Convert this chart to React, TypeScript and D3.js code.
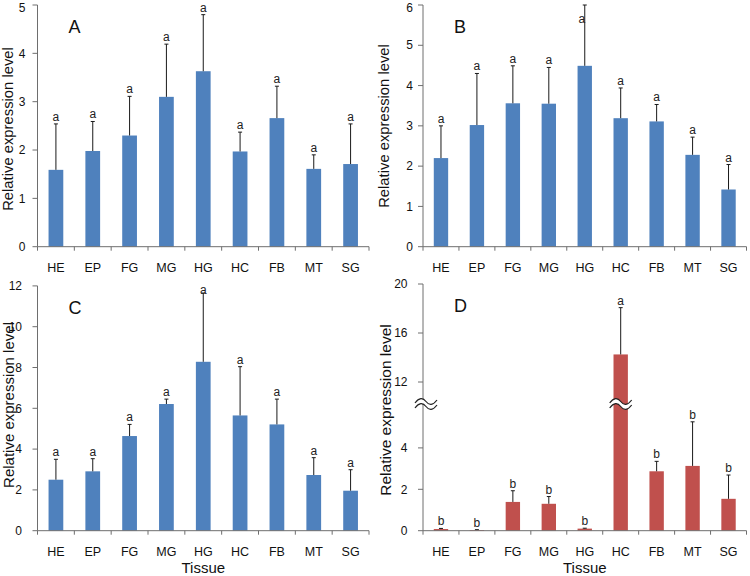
import React from "react";
import * as d3 from "d3";

const categories = ["HE", "EP", "FG", "MG", "HG", "HC", "FB", "MT", "SG"];

const meanA = [1.59, 1.98, 2.3, 3.1, 3.63, 1.97, 2.66, 1.61, 1.71];
const errA = [0.95, 0.61, 0.81, 1.09, 1.17, 0.4, 0.66, 0.29, 0.83];
const lettersA = ["a", "a", "a", "a", "a", "a", "a", "a", "a"];

const meanB = [2.2, 3.02, 3.56, 3.55, 4.49, 3.19, 3.11, 2.28, 1.42];
const errB = [0.8, 1.28, 0.93, 0.9, 1.51, 0.75, 0.42, 0.44, 0.62];
const lettersB = ["a", "a", "a", "a", "a", "a", "a", "a", "a"];

const meanC = [2.5, 2.91, 4.64, 6.21, 8.28, 5.65, 5.21, 2.73, 1.96];
const errC = [1.0, 0.62, 0.57, 0.24, 3.37, 2.39, 1.24, 0.85, 1.03];
const lettersC = ["a", "a", "a", "a", "a", "a", "a", "a", "a"];

const meanD = [0.08, 0.03, 1.39, 1.3, 0.1, 14.25, 2.87, 3.13, 1.54];
const errD = [0.03, 0.02, 0.54, 0.35, 0.02, 3.82, 0.48, 2.13, 1.15];
const lettersD = ["b", "b", "b", "b", "b", "a", "b", "b", "b"];

const ticksA = [0, 1, 2, 3, 4, 5];
const ticksB = [0, 1, 2, 3, 4, 5, 6];
const ticksC = [0, 2, 4, 6, 8, 10, 12];
const ticksDLow = [0, 2, 4];
const ticksDHigh = [12, 16, 20];

const FONT = "'Liberation Sans', Arial, sans-serif";
const BLUE = "#4F81BD";
const RED = "#C0504D";
const AXIS = "#6e6e6e";
const ERR = "#1a1a1a";

type PanelProps = {
  label: string;
  left: number;
  right: number;
  top: number;
  bottom: number;
  mean: number[];
  err: number[];
  letters: string[];
  color: string;
  y: (v: number) => number;
  ticks: number[];
  tickGap: number;
  titleX: number;
  titleY: number;
  titleSize: number;
  showTissue: boolean;
  broken?: boolean;
  clampBaseline: number;
  clampDx: number;
};

function BreakMark({ cx, cy }: { cx: number; cy: number }) {
  const w = 11;
  const wave = (off: number) =>
    `M${cx - w},${cy + off + 1.5} C${cx - w + 4},${cy + off - 4} ${cx - 3},${cy + off - 4} ${cx},${cy + off} S${cx + w - 4},${cy + off + 4} ${cx + w},${cy + off - 1.5}`;
  const waveRev = (off: number) =>
    `L${cx + w},${cy + off - 1.5} C${cx + w - 4},${cy + off + 4} ${cx + 3},${cy + off + 4} ${cx},${cy + off} S${cx - w + 4},${cy + off - 4} ${cx - w},${cy + off + 1.5} Z`;
  return (
    <g>
      <path d={wave(-2.5) + waveRev(2.5)} fill="#fff" stroke="none" />
      <path d={wave(-2.5)} fill="none" stroke="#222" strokeWidth={1.2} />
      <path d={wave(2.5)} fill="none" stroke="#222" strokeWidth={1.2} />
    </g>
  );
}

function Panel(p: PanelProps) {
  const x = d3
    .scaleBand<string>()
    .domain(categories)
    .range([p.left, p.right])
    .paddingInner(0.6)
    .paddingOuter(0.3);
  const step = x.step();
  const bw = x.bandwidth();
  const boundaries = d3.range(categories.length + 1).map((i) => p.left + i * step);
  const breakY = 404;
  return (
    <g fontFamily={FONT}>
      {categories.map((c, i) => {
        const x0 = x(c)!;
        const yTop = p.y(p.mean[i]);
        const yErr = p.y(p.mean[i] + p.err[i]);
        const cx = x0 + bw / 2;
        const natural = yErr - 3;
        const clamped = natural < p.clampBaseline;
        return (
          <g key={c}>
            <rect x={x0} y={yTop} width={bw} height={p.bottom - yTop} fill={p.color} />
            <line x1={cx} x2={cx} y1={yTop} y2={yErr} stroke={ERR} strokeWidth={1} />
            <line x1={cx - 2} x2={cx + 2} y1={yErr} y2={yErr} stroke={ERR} strokeWidth={1} />
            <text
              x={clamped ? cx + p.clampDx : cx}
              y={clamped ? p.clampBaseline : natural}
              textAnchor="middle"
              fontSize={12}
              fill="#222"
            >
              {p.letters[i]}
            </text>
            <text x={cx} y={p.bottom + 25.5} textAnchor="middle" fontSize={12.5} fill="#111">
              {c}
            </text>
          </g>
        );
      })}
      {/* y axis */}
      <line x1={p.left} x2={p.left} y1={p.top} y2={p.bottom} stroke={AXIS} strokeWidth={1} />
      {p.ticks.map((t) => (
        <g key={t}>
          <line x1={p.left - 5} x2={p.left} y1={p.y(t)} y2={p.y(t)} stroke={AXIS} />
          <text
            x={p.left - p.tickGap}
            y={Math.max(p.y(t) + 4.2, 11.5)}
            textAnchor="end"
            fontSize={12}
            fill="#111"
          >
            {t}
          </text>
        </g>
      ))}
      {/* x axis */}
      <line x1={p.left} x2={p.right} y1={p.bottom} y2={p.bottom} stroke={AXIS} strokeWidth={1} />
      {boundaries.map((bx, i) => (
        <line key={i} x1={bx} x2={bx} y1={p.bottom} y2={p.bottom + 4} stroke={AXIS} />
      ))}
      {p.broken && (
        <>
          <BreakMark cx={p.left + 3} cy={breakY} />
          <BreakMark cx={x("HC")! + bw / 2} cy={breakY} />
        </>
      )}
      <text
        transform={`translate(${p.titleX},${p.titleY}) rotate(-90)`}
        textAnchor="middle"
        fontSize={p.titleSize}
        fill="#111"
      >
        Relative expression level
      </text>
      {p.showTissue && (
        <text x={(p.left + p.right) / 2} y={573} textAnchor="middle" fontSize={15} fill="#111">
          Tissue
        </text>
      )}
      <text x={p.left + 31} y={p.top + 28} fontSize={18} fill="#111">
        {p.label}
      </text>
    </g>
  );
}

export default function App() {
  const yA = d3.scaleLinear().domain([0, 5]).range([246.7, 5]);
  const yB = d3.scaleLinear().domain([0, 6]).range([246.7, 5]);
  const yC = d3.scaleLinear().domain([0, 12]).range([530.7, 285.9]);
  const yDLow = d3.scaleLinear().domain([0, 6]).range([530.7, 406.5]);
  const yDHigh = d3.scaleLinear().domain([10, 20]).range([406.5, 284]);
  const yD = (v: number) => (v <= 6 ? yDLow(v) : v >= 10 ? yDHigh(v) : yDLow(6));

  return (
    <svg width={750} height={576} style={{ position: "absolute", left: 0, top: 0, background: "#fff" }}>
      <rect width={750} height={576} fill="#fff" />
      <Panel
        label="A"
        left={37.5}
        right={369}
        top={5}
        bottom={246.7}
        mean={meanA}
        err={errA}
        letters={lettersA}
        color={BLUE}
        y={yA}
        ticks={ticksA}
        tickGap={12}
        titleX={12.5}
        titleY={129}
        titleSize={14.8}
        showTissue={false}
        clampBaseline={10}
        clampDx={0}
      />
      <Panel
        label="B"
        left={423}
        right={746.5}
        top={5}
        bottom={246.7}
        mean={meanB}
        err={errB}
        letters={lettersB}
        color={BLUE}
        y={yB}
        ticks={ticksB}
        tickGap={10}
        titleX={388.5}
        titleY={126}
        titleSize={14.8}
        showTissue={false}
        clampBaseline={23}
        clampDx={-3}
      />
      <Panel
        label="C"
        left={37.5}
        right={369}
        top={285.9}
        bottom={530.7}
        mean={meanC}
        err={errC}
        letters={lettersC}
        color={BLUE}
        y={yC}
        ticks={ticksC}
        tickGap={15.5}
        titleX={13.5}
        titleY={405}
        titleSize={15}
        showTissue={true}
        clampBaseline={294}
        clampDx={0}
      />
      <Panel
        label="D"
        left={423}
        right={746.5}
        top={284}
        bottom={530.7}
        mean={meanD}
        err={errD}
        letters={lettersD}
        color={RED}
        y={yD}
        ticks={[...ticksDLow, ...ticksDHigh]}
        tickGap={15.5}
        titleX={391}
        titleY={410}
        titleSize={15.5}
        showTissue={true}
        broken={true}
        clampBaseline={290}
        clampDx={0}
      />
    </svg>
  );
}
